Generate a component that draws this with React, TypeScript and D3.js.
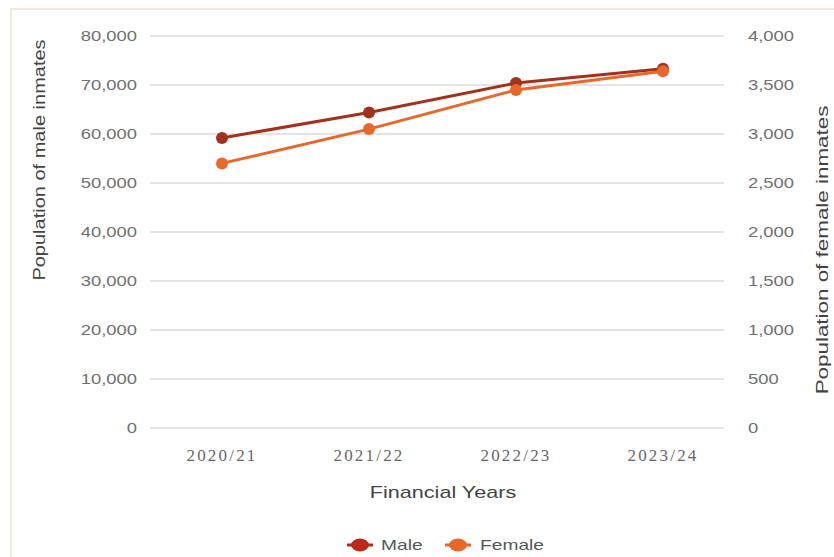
import React from "react";
import * as d3 from "d3";

const categories = ["2020/21", "2021/22", "2022/23", "2023/24"];
const maleValues = [59200, 64400, 70400, 73300];
const femaleValues = [2700, 3050, 3450, 3640];
const leftTicks = [0, 10000, 20000, 30000, 40000, 50000, 60000, 70000, 80000];
const rightTicks = [0, 500, 1000, 1500, 2000, 2500, 3000, 3500, 4000];

const W = 834;
const H = 557;
const plotLeft = 150;
const plotRight = 724;
const plotTop = 36;
const plotBottom = 428;
const maleColor = "#a3321c";
const femaleColor = "#e8672a";
const sans = "'Liberation Sans', Arial, sans-serif";
const serif = "Liberation Serif, Times New Roman, serif";

function SText(props: {
  x: number; y: number; sx: number; anchor: string; size: number; family: string; fill: string; children: any; rotate?: number;
}) {
  const { x, y, sx, anchor, size, family, fill, children, rotate } = props;
  const tr = rotate ? `translate(${x},${y}) rotate(${rotate}) scale(${sx},1)` : `translate(${x},${y}) scale(${sx},1)`;
  return (
    <g transform={tr}>
      <text x={0} y={0} dy="0.35em" textAnchor={anchor} style={{ fontFamily: family }} fontSize={size} fill={fill}>
        {children}
      </text>
    </g>
  );
}

export default function App() {
  const x = d3.scalePoint<string>().domain(categories).range([222, 663]);
  const yL = d3.scaleLinear().domain([0, 80000]).range([plotBottom, plotTop]);
  const yR = d3.scaleLinear().domain([0, 4000]).range([plotBottom, plotTop]);
  const fmt = d3.format(",");
  const maleLine = d3.line<number>().x((_, i) => x(categories[i])!).y((d) => yL(d));
  const femaleLine = d3.line<number>().x((_, i) => x(categories[i])!).y((d) => yR(d));

  return (
    <div style={{ position: "absolute", left: 0, top: 0 }}>
      <svg width={W} height={H} style={{ display: "block", background: "#fff" }}>
        <rect x={11} y={9} width={W} height={H} fill="#fff" stroke="#efe9dd" strokeWidth={2} />
        {leftTicks.map((t) => (
          <line key={t} x1={plotLeft} x2={plotRight} y1={yL(t)} y2={yL(t)} stroke="#e4e4e4" strokeWidth={2} />
        ))}
        {leftTicks.map((t) => (
          <SText key={"l" + t} x={137} y={yL(t)} sx={1.27} anchor="end" size={14.5} family={sans} fill="#707070">
            {fmt(t)}
          </SText>
        ))}
        {rightTicks.map((t) => (
          <SText key={"r" + t} x={748} y={yR(t)} sx={1.27} anchor="start" size={14.5} family={sans} fill="#707070">
            {fmt(t)}
          </SText>
        ))}
        {categories.map((c) => (
          <text key={c} x={x(c)} y={455} dy="0.35em" textAnchor="middle" fontFamily={serif} fontSize={17}
            letterSpacing={2.2} fill="#666">
            {c}
          </text>
        ))}
        <SText x={443} y={492} sx={1.27} anchor="middle" size={17} family={sans} fill="#444">
          Financial Years
        </SText>
        <SText x={39} y={160} sx={1.25} rotate={-90} anchor="middle" size={16} family={sans} fill="#444">
          Population of male inmates
        </SText>
        <SText x={822} y={250} sx={1.4} rotate={-90} anchor="middle" size={16} family={sans} fill="#444">
          Population of female inmates
        </SText>
        <path d={maleLine(maleValues)!} fill="none" stroke={maleColor} strokeWidth={3} />
        <path d={femaleLine(femaleValues)!} fill="none" stroke={femaleColor} strokeWidth={3} />
        {maleValues.map((v, i) => (
          <circle key={"m" + i} cx={x(categories[i])} cy={yL(v)} r={6} fill={maleColor} />
        ))}
        {femaleValues.map((v, i) => (
          <circle key={"f" + i} cx={x(categories[i])} cy={yR(v)} r={6} fill={femaleColor} />
        ))}
        <g transform="translate(360,545)">
          <line x1={-13} x2={13} y1={0} y2={0} stroke={maleColor} strokeWidth={3} />
          <ellipse cx={0} cy={0} rx={9} ry={6.5} fill="#b82a1c" />
        </g>
        <SText x={381} y={545} sx={1.28} anchor="start" size={15} family={sans} fill="#555">Male</SText>
        <g transform="translate(458,545)">
          <line x1={-13} x2={13} y1={0} y2={0} stroke={femaleColor} strokeWidth={3} />
          <ellipse cx={0} cy={0} rx={9} ry={6.5} fill={femaleColor} />
        </g>
        <SText x={480} y={545} sx={1.28} anchor="start" size={15} family={sans} fill="#555">Female</SText>
      </svg>
    </div>
  );
}
